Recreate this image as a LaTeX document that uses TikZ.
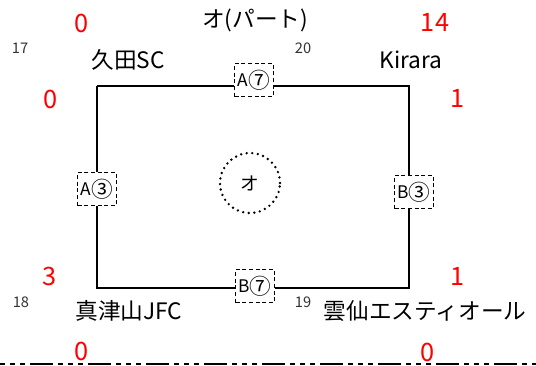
\documentclass[tikz,border=0pt]{standalone}
\usepackage{fontspec}
\setmainfont{Noto Sans CJK JP}
\usetikzlibrary{positioning}
\tikzset{
  team/.style={font=\fontsize{17}{20}\selectfont},
  score/.style={text=red, font=\fontsize{19}{22}\selectfont},
  seed/.style={text=black!80, font=\fontsize{11}{13}\selectfont},
  matchBox/.style={rectangle, draw, fill=white, line width=0.8pt, dash pattern=on 3pt off 2pt, minimum width=29pt, minimum height=25pt, inner sep=1pt, font=\fontsize{13}{15}\selectfont},
  venue/.style={circle, draw, line width=2pt, line cap=round, dash pattern=on 0pt off 4.2pt, minimum width=45pt, font=\fontsize{14}{16}\selectfont},
  field/.style={line width=1.5pt}
}
\newcommand{\circnum}[1]{\raisebox{-1.2pt}{\scalebox{1.25}{#1}}}
\begin{document}
\begin{tikzpicture}[x=0.75pt, y=-0.75pt]
  \useasboundingbox (0,0) rectangle (536,365);

  \node (title) at (255,20) {\fontsize{17}{20}\selectfont オ(パート)};

  \coordinate (tl) at (97,86);
  \coordinate (tr) at (409,86);
  \coordinate (br) at (409,288);
  \coordinate (bl) at (97,288);

  \node[matchBox] (a7) at (254,80) {A\circnum{⑦}};
  \node[matchBox] (a3) at (97,189) {A\circnum{③}};
  \node[matchBox] (b3) at (414,192) {B\circnum{③}};
  \node[matchBox] (b7) at (255,286) {B\circnum{⑦}};

  \draw[field] (tl) -- (tl -| a7.west);
  \draw[field] (a7.east |- tr) -- (tr) -- (tr |- b3.north);
  \draw[field] (br |- b3.south) -- (br) -- (br -| b7.east);
  \draw[field] (b7.west |- bl) -- (bl) -- (bl |- a3.south);
  \draw[field] (tl |- a3.north) -- (tl);

  \node[venue] (venue) at (250,183) {オ};

  \node[seed] (s17) at (20,48) {17};
  \node[team] (kuta) at (128,60) {久田SC};
  \node[seed] (s20) at (303,48) {20};
  \node[team] (kirara) at (411,60) {Kirara};
  \node[seed] (s18) at (21,302) {18};
  \node[team] (matsuyama) at (129,311) {真津山JFC};
  \node[seed] (s19) at (303,302) {19};
  \node[team] (unzen) at (425,311) {雲仙エスティオール};

  \node[score] (sc1) at (82,23) {0};
  \node[score] (sc2) at (435,22) {14};
  \node[score] (sc3) at (51,99) {0};
  \node[score] (sc4) at (458,98) {1};
  \node[score] (sc5) at (50,276) {3};
  \node[score] (sc6) at (458,276) {1};
  \node[score] (sc7) at (82,351) {0};
  \node[score] (sc8) at (428,352) {0};

  \draw[line width=1.5pt, dash pattern=on 3.5pt off 4pt on 3.5pt off 4pt on 3.5pt off 4pt on 17pt off 4pt] (0,363.5) -- (536,363.5);
\end{tikzpicture}
\end{document}
